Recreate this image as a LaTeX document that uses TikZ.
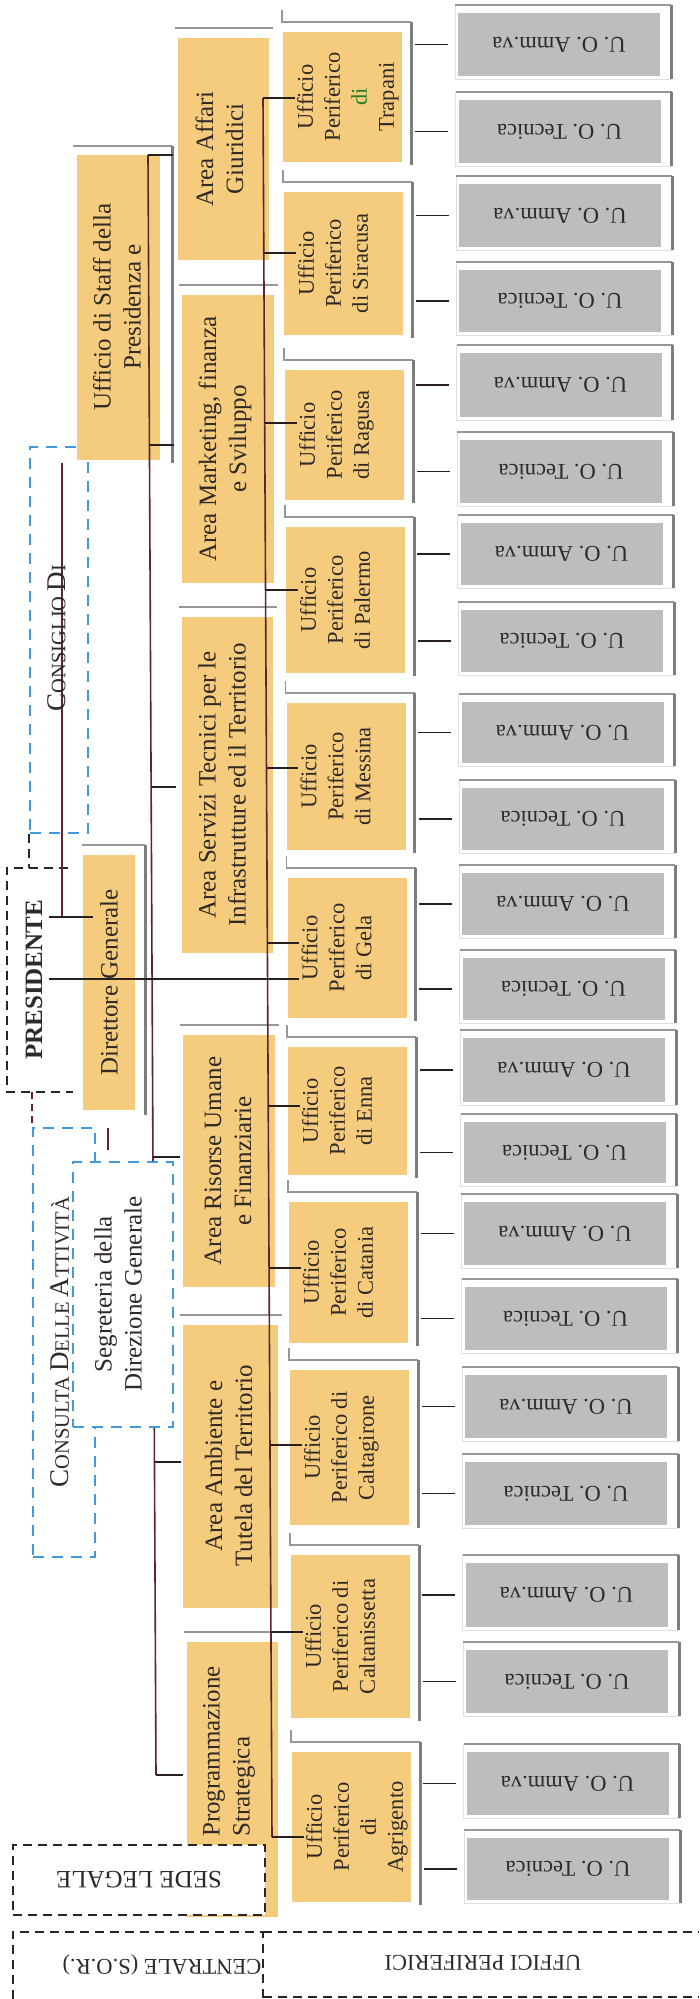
\documentclass[tikz,border=0pt]{standalone}
\usepackage{fontspec}
\setmainfont{Liberation Serif}
\usetikzlibrary{fit,calc}
\definecolor{yel}{RGB}{245,203,125}
\definecolor{gry}{RGB}{189,189,191}
\definecolor{frmc}{RGB}{150,150,150}
\definecolor{frmd}{RGB}{125,125,125}
\definecolor{lnc}{RGB}{40,30,32}
\definecolor{mar}{RGB}{95,35,50}
\definecolor{bluec}{RGB}{66,153,222}
\definecolor{txt}{RGB}{48,42,38}
\definecolor{dgreen}{RGB}{40,125,40}
\newcommand\SCa[1]{{\fontsize{27}{30}\selectfont #1}}
\newcommand\SCb[1]{{\fontsize{20.5}{30}\selectfont #1}}
% Ufficio periferico: n, top, bottom, left, text
\newcommand\UF[5]{%
  \draw[frm] (#4-1,#2-22) -- (#4-1,#2-10) -- (#4+128,#2-10);
  \draw[frmR] (#4+128,#2-10) -- (#4+128,#3+3);
  \node[ybox, fit={(#4,#2) (#4+119,#3)}] (uf#1) {};
  \node[uftext] at ($(uf#1.west)+(14,0)$) {#5};
}
% U.O. box: name, top, bottom, left, text
\newcommand\UO[5]{%
  \draw[frmL] (#4-3,#2-8) rectangle (#4+213,#3+3);
  \draw[frm] (#4-3,#2-8) -- (#4+213,#2-8);
  \draw[frmR] (#4+213,#2-8) -- (#4+213,#3+3);
  \node[gbox, fit={(#4,#2) (#4+202,#3)}] (#1) {};
  \node[uotext] at (#1.center) {#5};
  \draw[conn] ($(#1.west)+(-43,0)$) -- ($(#1.west)+(-10,0)$);
}
% Area box: name, left, top, right, bottom
\newcommand\AR[5]{%
  \draw[frm] (#2-3,#3-10) -- (#4+4,#3-10);
  \node[ybox, fit={(#2,#3) (#4,#5)}] (#1) {};
}
\begin{document}
\begin{tikzpicture}[x=1pt,y=-1pt,
  ybox/.style={fill=yel,draw=none,inner sep=0pt},
  gbox/.style={fill=gry,draw=none,inner sep=0pt},
  uftext/.style={rotate=90,anchor=north,align=center,inner sep=0pt,text=txt,font=\fontsize{22.5}{27}\selectfont},
  artext/.style={rotate=90,align=center,inner sep=0pt,text=txt,font=\fontsize{25}{30}\selectfont},
  uotext/.style={rotate=180,inner sep=0pt,text=txt,font=\fontsize{22.5}{27}\selectfont},
  frm/.style={draw=frmc,line width=1.5pt},
  frmR/.style={draw=frmd,line width=3pt},
  frmL/.style={draw=gray!25,line width=0.8pt},
  conn/.style={draw=lnc,line width=1.6pt},
  mconn/.style={draw=mar,line width=1.6pt},
  bdash/.style={draw=bluec,line width=2.5pt,dash pattern=on 11pt off 8pt,inner sep=0pt},
  kdash/.style={draw=black!85,line width=2pt,dash pattern=on 9pt off 6pt},
  mdash/.style={draw=mar,line width=2pt,dash pattern=on 7pt off 5pt},
  lbl/.style={inner sep=0pt,text=txt}
]
\useasboundingbox (0,0) rectangle (699,1999);
\fill[white] (0,0) rectangle (699,1999);

% dashed outer boxes (behind)
\node[bdash, fit={(30,447) (88,833)}] (consiglio) {};
\node[bdash, fit={(33,1128) (95,1557)}] (consulta) {};

% left column
\draw[frm] (73,146) -- (172,146);
\draw[frmR] (172,146) -- (172,463);
\node[ybox, fit={(77,155) (160,460)}] (staff) {};
\node[artext] at (117,307) {Ufficio di Staff della\\Presidenza e};

\draw[frm] (82,845) -- (145,845);
\draw[frmR] (145,845) -- (145,1115);
\node[ybox, fit={(83,855) (135,1110)}] (dg) {};
\node[artext] at (dg.center) {Direttore Generale};

% areas
\AR{affari}{178}{38}{269}{260}
\AR{marketing}{182}{295}{274}{583}
\AR{servizi}{182}{617}{273}{953}
\AR{risorse}{183}{1035}{275}{1287}
\AR{ambiente}{183}{1325}{278}{1608}
\AR{program}{187}{1642}{278}{1917}
\node[artext] at (219.5,149) {Area Affari\\Giuridici};
\node[artext] at (225,439) {Area Marketing, finanza\\e Sviluppo};
\node[artext] at (222,785) {Area Servizi Tecnici per le\\Infrastrutture ed il Territorio};
\node[artext] at (228,1161) {Area Risorse Umane\\e Finanziarie};
\node[artext] at (228.5,1466) {Area Ambiente e\\Tutela del Territorio};
\node[artext,align=left,anchor=west] at (229,1837) {Programmazione\\Strategica};

% uffici periferici
\UF{1}{32}{162}{283}{Ufficio\\Periferico\\\textcolor{dgreen}{di}\\Trapani}
\UF{2}{192}{335}{284}{Ufficio\\Periferico\\di Siracusa}
\UF{3}{370}{500}{285}{Ufficio\\Periferico\\di Ragusa}
\UF{4}{527}{673}{286}{Ufficio\\Periferico\\di Palermo}
\UF{5}{703}{850}{286.5}{Ufficio\\Periferico\\di Messina}
\UF{6}{878}{1018}{287.5}{Ufficio\\Periferico\\di Gela}
\UF{7}{1047}{1175}{288}{Ufficio\\Periferico\\di Enna}
\UF{8}{1202}{1343}{289}{Ufficio\\Periferico\\di Catania}
\UF{9}{1370}{1525}{290}{Ufficio\\Periferico di\\Caltagirone}
\UF{10}{1555}{1718}{291}{Ufficio\\Periferico di\\Caltanissetta}
\UF{11}{1752}{1902}{292}{Ufficio\\Periferico\\di\\Agrigento}

% U.O.
\UO{uo1a}{13}{76}{458}{U. O. Amm.va}
\UO{uo1b}{100}{163}{458.5}{U. O. Tecnica}
\UO{uo2a}{184}{247}{459}{U. O. Amm.va}
\UO{uo2b}{270}{332}{459}{U. O. Tecnica}
\UO{uo3a}{353}{417}{459.5}{U. O. Amm.va}
\UO{uo3b}{440}{503}{460}{U. O. Tecnica}
\UO{uo4a}{523}{585}{460.5}{U. O. Amm.va}
\UO{uo4b}{610}{672}{461}{U. O. Tecnica}
\UO{uo5a}{702}{763}{461.5}{U. O. Amm.va}
\UO{uo5b}{788}{850}{462}{U. O. Tecnica}
\UO{uo6a}{873}{935}{462}{U. O. Amm.va}
\UO{uo6b}{958}{1020}{462.5}{U. O. Tecnica}
\UO{uo7a}{1038}{1102}{463}{U. O. Amm.va}
\UO{uo7b}{1122}{1183}{463.5}{U. O. Tecnica}
\UO{uo8a}{1202}{1265}{464}{U. O. Amm.va}
\UO{uo8b}{1287}{1350}{464.5}{U. O. Tecnica}
\UO{uo9a}{1375}{1438}{465}{U. O. Amm.va}
\UO{uo9b}{1462}{1525}{465}{U. O. Tecnica}
\UO{uo10a}{1563}{1627}{465.5}{U. O. Amm.va}
\UO{uo10b}{1650}{1713}{466}{U. O. Tecnica}
\UO{uo11a}{1752}{1815}{466.5}{U. O. Amm.va}
\UO{uo11b}{1838}{1900}{467}{U. O. Tecnica}

% spine of the uffici periferici
\coordinate (j1) at (263,98);
\coordinate (j2) at (263.8,253);
\coordinate (j3) at (264.7,423);
\coordinate (j4) at (265.5,590);
\coordinate (j5) at (266.5,768);
\coordinate (j6) at (267.4,943);
\coordinate (j7) at (268.2,1106);
\coordinate (j8) at (269.1,1268);
\coordinate (j9) at (270,1445);
\coordinate (j10) at (270.9,1632);
\coordinate (j11) at (272,1837);
\draw[mconn] (j1) -- (j11);
\foreach \k in {1,...,11}{
  \draw[conn] (j\k) -- ($(uf\k.west |- j\k)+(12,0)$);
}

% spine of the areas
\coordinate (a1) at (148,155);
\coordinate (a2) at (149.4,445);
\coordinate (a3) at (151.1,787);
\coordinate (a4) at (152.9,1157);
\coordinate (a5) at (154.5,1462);
\coordinate (a6) at (156,1775);
\draw[mconn] (a1) -- (a6);
\draw[conn] (a1) -- ($(staff.east |- a1)+(13,0)$);
\draw[conn] (a2) -- ($(staff.east |- a2)+(14,0)$);
\draw[conn] (a3) -- ($(servizi.west |- a3)+(-6,0)$);
\draw[conn] (a4) -- ($(risorse.west |- a4)+(-3,0)$);
\draw[conn] (a5) -- ($(ambiente.west |- a5)+(-2,0)$);
\draw[conn] (a6) -- ($(program.west |- a6)+(-4,0)$);

% presidente
\node[inner sep=0pt, fit={(7,868) (70,1092)}] (pres) {};
\draw[kdash] ($(pres.north east)+(-2,0)$) -- (pres.north west) -- (pres.south west) -- ($(pres.south east)+(3,0)$);
\node[lbl,rotate=90,font=\bfseries\fontsize{25}{30}\selectfont] at (34,980) {PRESIDENTE};
\draw[kdash] (consiglio.south west) -- (consiglio.south west |- pres.north);
\draw[mdash] (consulta.north west |- pres.south) -- (consulta.north west);

\coordinate (c1) at (62,463);
\coordinate (c2) at (62,917);
\coordinate (p1) at (49,917);
\coordinate (p2) at (49,979);
\draw[mconn] (c1) -- (c2);
\draw[conn] (p1) -- ($(dg.west |- p1)+(10,0)$);
\draw[conn] (p2) -- ($(uf6.west |- p2)+(12,0)$);
\coordinate (s1) at (108,1128);
\coordinate (s2) at (108,1150);
\draw[mconn] (s1) -- (s2);

% segreteria (over the area spine)
\node[bdash, fill=white, fit={(73,1162) (173,1427)}] (segr) {};
\node[artext] at (118,1294) {Segreteria della\\Direzione Generale};

% labels of the dashed boxes
\node[lbl,rotate=90,font=\fontsize{20.5}{30}\selectfont] at (56.5,638) {\SCa{C}\SCb{ONSIGLIO} \SCa{D}\SCb{I}};
\node[lbl,rotate=90,font=\fontsize{20.5}{30}\selectfont] at (60,1342) {\SCa{C}\SCb{ONSULTA} \SCa{D}\SCb{ELLE} \SCa{A}\SCb{TTIVITÀ}};

% bottom
\node[kdash, fill=white, inner sep=0pt, fit={(13,1845) (265,1915)}] (sede) {};
\node[lbl,rotate=180,font=\fontsize{25}{30}\selectfont] at (sede.center) {SEDE LEGALE};
\node[inner sep=0pt, fit={(13,1932) (263,1999)}] (centrale) {};
\node[lbl,rotate=180,font=\fontsize{22.5}{27}\selectfont] at (162,1965) {CENTRALE (S.O.R.)};
\draw[kdash] (centrale.south west) -- (centrale.north west) -- (centrale.north east) -- (centrale.south east);
\node[inner sep=0pt, fit={(263,1932) (699,1997)}] (uffper) {};
\draw[kdash] (uffper.north west) -- (uffper.north east);
\draw[kdash] (uffper.south west) -- (uffper.south east);
\node[lbl,rotate=180,font=\fontsize{22.5}{27}\selectfont] at (483,1963) {UFFICI PERIFERICI};
\end{tikzpicture}
\end{document}
